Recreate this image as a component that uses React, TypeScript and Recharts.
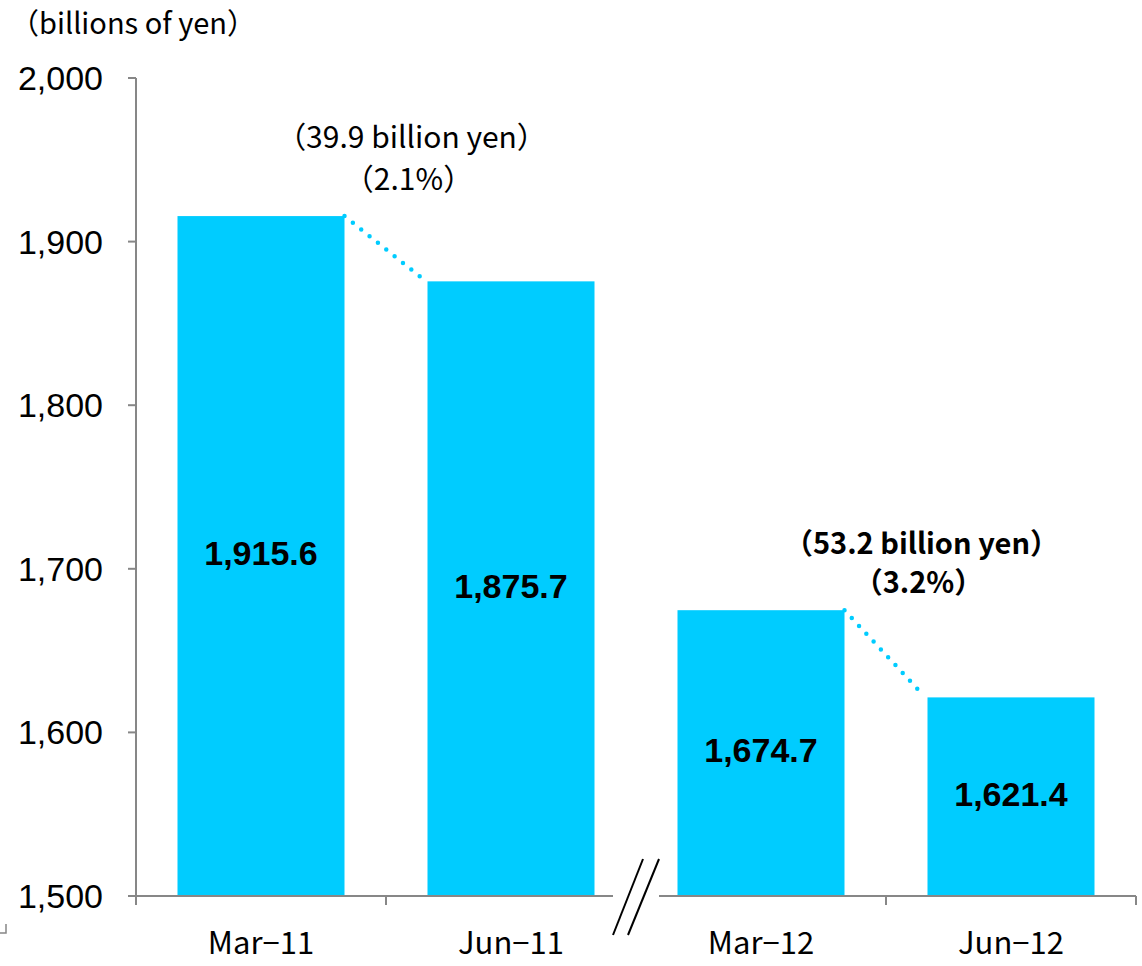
import React from "react";
import { BarChart, Bar, XAxis, YAxis, LabelList } from "recharts";

// period-end balances (billions of yen)
const periods = ["Mar−11", "Jun−11", "Mar−12", "Jun−12"];
const balances = [1915.6, 1875.7, 1674.7, 1621.4];
const yDomain = [1500, 2000];
const yTicks = [1500, 1600, 1700, 1800, 1900, 2000];
// decrease between the two quarters, shown on the Jun bars
const decreaseAmounts = ["39.9", "53.2"];
const decreasePercents = ["2.1", "3.2"];

const data = periods.map((p, i) => ({ period: p, value: balances[i] }));

const BAR = "#00CCFF";
const AXIS = "#878787";
const JP = "'Noto Sans CJK JP', 'Noto Sans', sans-serif";
const LAT = "'Liberation Sans', Arial, sans-serif";

// annotation placement relative to the top-right corner of the earlier bar
const noteLayout = [
  { dx: 67, dy: -68, gap: 42, bold: false, size: 30 },
  { dx: 77, dy: -56, gap: 39, bold: true, size: 29 },
];

// bar rectangles recorded while drawing, so the connectors can reach the previous bar
const geo: Record<number, { x: number; y: number; w: number; h: number }> = {};

const BarShape = (props: any) => {
  const { x, y, width, height, index } = props;
  geo[index] = { x, y, w: width, h: height };
  return <rect x={x} y={y} width={width} height={height} fill={BAR} />;
};

const fmt = (v: number) =>
  v.toLocaleString("en-US", { minimumFractionDigits: 1, maximumFractionDigits: 1 });

const ValueLabel = (props: any) => {
  const { x, y, width, height, value } = props;
  return (
    <text
      x={x + width / 2}
      y={y + height / 2 - 3}
      dy="0.355em"
      textAnchor="middle"
      fontFamily={LAT}
      fontSize={34}
      fontWeight={700}
      fill="#000"
    >
      {fmt(Number(value))}
    </text>
  );
};

const Overlay = (props: any) => {
  const { index, x, y } = props;
  if (index === 2) {
    // axis break between Jun-11 and Mar-12
    const prev = geo[1];
    const cur = geo[2];
    if (!prev) return null;
    const bottom = cur ? cur.y + cur.h : y;
    const mid = (prev.x + prev.w + x) / 2;
    return (
      <g>
        <rect x={mid - 23} y={bottom - 4} width={46} height={16} fill="#fff" />
        <line x1={mid + 7} y1={bottom - 37} x2={mid - 23} y2={bottom + 39} stroke="#000" strokeWidth={2} />
        <line x1={mid + 23} y1={bottom - 37} x2={mid - 8} y2={bottom + 39} stroke="#000" strokeWidth={2} />
      </g>
    );
  }
  if (index % 2 !== 1) return null;
  const prev = geo[index - 1];
  if (!prev) return null;
  const n = (index - 1) / 2;
  const lay = noteLayout[n];
  const sx = prev.x + prev.w;
  const sy = prev.y;
  return (
    <g>
      <line
        x1={sx}
        y1={sy}
        x2={x - 4}
        y2={y - 2}
        stroke={BAR}
        strokeWidth={4.5}
        strokeLinecap="round"
        strokeDasharray="0 10.7"
      />
      <text
        x={sx + lay.dx}
        y={sy + lay.dy}
        textAnchor="middle"
        fontFamily={JP}
        fontSize={lay.size}
        fontWeight={lay.bold ? 700 : 400}
        fill="#000"
      >
        {`（${decreaseAmounts[n]} billion yen）`}
      </text>
      <text
        x={sx + lay.dx - 3}
        y={sy + lay.dy + lay.gap}
        textAnchor="middle"
        fontFamily={JP}
        fontSize={lay.size}
        fontWeight={lay.bold ? 700 : 400}
        fill="#000"
      >
        {`（${decreasePercents[n]}%）`}
      </text>
    </g>
  );
};

const PeriodTick = (props: any) => {
  const { x, y, payload, index, visibleTicksCount, width } = props;
  const half = payload.offset || width / visibleTicksCount / 2;
  return (
    <g>
      <line x1={x - half} y1={y} x2={x - half} y2={y + 9} stroke={AXIS} strokeWidth={2} />
      {index === visibleTicksCount - 1 && (
        <line x1={x + half} y1={y} x2={x + half} y2={y + 9} stroke={AXIS} strokeWidth={2} />
      )}
      <text x={x} y={y + 58} textAnchor="middle" fontFamily={JP} fontSize={31} fill="#000">
        {payload.value}
      </text>
    </g>
  );
};

const UnitLabel = (props: any) => {
  const { viewBox } = props;
  return (
    <text x={viewBox.x + 10} y={viewBox.y - 44} fontFamily={JP} fontSize={29} fill="#000">
      （billions of yen）
    </text>
  );
};

export default function App() {
  return (
    <div style={{ position: "absolute", left: 0, top: 0, background: "#fff" }}>
      <BarChart
        width={1142}
        height={966}
        data={data}
        margin={{ top: 78, right: 6, bottom: 0, left: 0 }}
        barCategoryGap="16.6%"
      >
        <XAxis
          dataKey="period"
          height={70}
          tickSize={0}
          tickMargin={0}
          tickLine={false}
          axisLine={{ stroke: AXIS, strokeWidth: 2 }}
          tick={<PeriodTick />}
          interval={0}
        />
        <YAxis
          width={136}
          domain={yDomain}
          ticks={yTicks}
          allowDataOverflow
          tickFormatter={(v: number) => v.toLocaleString("en-US")}
          tick={{ fontFamily: LAT, fontSize: 34, fill: "#000" }}
          tickSize={8}
          tickMargin={25}
          tickLine={{ stroke: AXIS, strokeWidth: 2 }}
          axisLine={{ stroke: AXIS, strokeWidth: 2 }}
          label={<UnitLabel />}
        />
        <Bar dataKey="value" shape={<BarShape />} isAnimationActive={false}>
          <LabelList dataKey="value" content={<ValueLabel />} />
          <LabelList dataKey="value" content={<Overlay />} />
        </Bar>
      </BarChart>
      <svg width={10} height={10} style={{ position: "absolute", left: 0, top: 924 }}>
        <polyline points="0,9 6,9 6,0" fill="none" stroke={AXIS} strokeWidth={1.5} />
      </svg>
    </div>
  );
}
